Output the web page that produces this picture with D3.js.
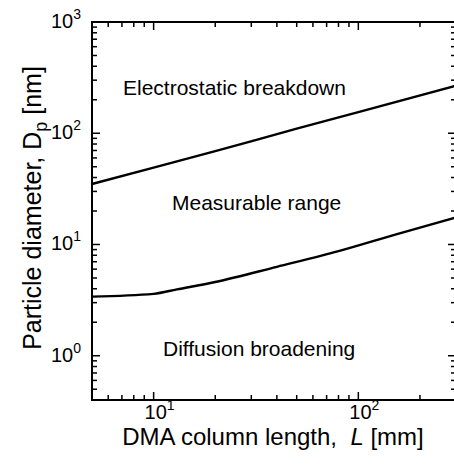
<!DOCTYPE html>
<html>
<head>
<meta charset="utf-8">
<script src="https://cdn.jsdelivr.net/npm/d3@7"></script>
<style>
  html, body { margin: 0; padding: 0; background: #fff; }
  svg { display: block; }
  text { font-family: "Liberation Sans", Arial, Helvetica, sans-serif; fill: #000; }
</style>
</head>
<body>
<svg id="chart" width="454" height="466"></svg>
<script>
// ---- data ----
const upperL = [5, 10, 20, 50, 100, 300];          // electrostatic breakdown limit
const upperD = [35, 49, 69, 110, 155, 268];
const lowerL = [5, 10, 13, 20, 40, 80, 150, 300];  // diffusion broadening limit
const lowerD = [3.4, 3.6, 3.95, 4.6, 6.3, 8.7, 12.2, 17.5];
const xMajorTicks = [10, 100];
const yMajorTicks = [1, 10, 100, 1000];
const xDomain = [5, 300];
const yDomain = [0.4, 1000];
const regionLabels = ["Electrostatic breakdown", "Measurable range", "Diffusion broadening"];

// ---- layout ----
const svg = d3.select("#chart");
const pLeft = 92, pRight = 456, pTop = 22, pBottom = 400;

const x = d3.scaleLog().domain(xDomain).range([pLeft, pRight]);
const y = d3.scaleLog().domain(yDomain).range([pBottom, pTop]);

function minorTicks(domain) {
  const out = [];
  const lo = Math.floor(Math.log10(domain[0])), hi = Math.ceil(Math.log10(domain[1]));
  for (let e = lo; e <= hi; e++) {
    for (let m = 2; m <= 9; m++) {
      const v = m * Math.pow(10, e);
      if (v > domain[0] && v < domain[1]) out.push(v);
    }
  }
  return out;
}
const xMinor = minorTicks(xDomain);
const yMinor = minorTicks(yDomain);

const g = svg.append("g");

// frame
g.append("rect")
  .attr("x", pLeft).attr("y", pTop)
  .attr("width", pRight - pLeft).attr("height", pBottom - pTop)
  .attr("fill", "none").attr("stroke", "#000").attr("stroke-width", 2);

const majorLen = 8, minorLen = 5;
const tickG = g.append("g").attr("stroke", "#000").attr("stroke-width", 1.5);

// bottom & top ticks (inward)
xMajorTicks.concat(xMinor).forEach(v => {
  const len = xMajorTicks.includes(v) ? majorLen : minorLen;
  const px = x(v);
  tickG.append("line").attr("x1", px).attr("x2", px).attr("y1", pBottom).attr("y2", pBottom - len);
  tickG.append("line").attr("x1", px).attr("x2", px).attr("y1", pTop).attr("y2", pTop + len);
});
// left & right ticks (inward)
yMajorTicks.concat(yMinor).forEach(v => {
  if (v <= yDomain[0] || v >= yDomain[1]) return;
  const len = yMajorTicks.includes(v) ? majorLen : minorLen;
  const py = y(v);
  tickG.append("line").attr("x1", pLeft).attr("x2", pLeft + len).attr("y1", py).attr("y2", py);
  tickG.append("line").attr("x1", pRight).attr("x2", pRight - len).attr("y1", py).attr("y2", py);
});

// x tick labels
xMajorTicks.forEach(v => {
  const t = g.append("text")
    .attr("x", x(v) - 9).attr("y", 418.5)
    .attr("font-size", 20);
  t.append("tspan").text("10");
  t.append("tspan").attr("font-size", 14).attr("dy", -9).text(String(Math.round(Math.log10(v))));
});

// y tick labels
yMajorTicks.forEach(v => {
  const t = g.append("text")
    .attr("x", 51).attr("y", y(v) + 6)
    .attr("font-size", 20);
  t.append("tspan").text("10");
  t.append("tspan").attr("font-size", 14).attr("dy", -9).text(String(Math.round(Math.log10(v))));
});

// lines
const line = d3.line().x(d => x(d[0])).y(d => y(d[1])).curve(d3.curveMonotoneX);
g.append("path")
  .datum(upperL.map((l, i) => [l, upperD[i]]))
  .attr("d", line).attr("fill", "none").attr("stroke", "#000").attr("stroke-width", 2.4);
g.append("path")
  .datum(lowerL.map((l, i) => [l, lowerD[i]]))
  .attr("d", line).attr("fill", "none").attr("stroke", "#000").attr("stroke-width", 2.4);

// region labels
const labelPos = [[123, 95], [172, 210], [163, 356]];
regionLabels.forEach((s, i) => {
  g.append("text").attr("x", labelPos[i][0]).attr("y", labelPos[i][1])
    .attr("font-size", 21).text(s);
});

// x axis title
const xt = g.append("text")
  .attr("x", 273).attr("y", 445)
  .attr("text-anchor", "middle")
  .attr("font-size", 24);
xt.append("tspan").text("DMA column length,\u00a0 ");
xt.append("tspan").attr("font-style", "italic").text("L");
xt.append("tspan").text(" [mm]");

// y axis title
const yt = g.append("text")
  .attr("transform", "translate(41,208) rotate(-90)")
  .attr("text-anchor", "middle")
  .attr("font-size", 25);
yt.append("tspan").text("Particle diameter, D");
yt.append("tspan").attr("font-size", 18).attr("dy", 6).text("p");
yt.append("tspan").attr("dy", -6).text(" [nm]");
</script>
</body>
</html>
